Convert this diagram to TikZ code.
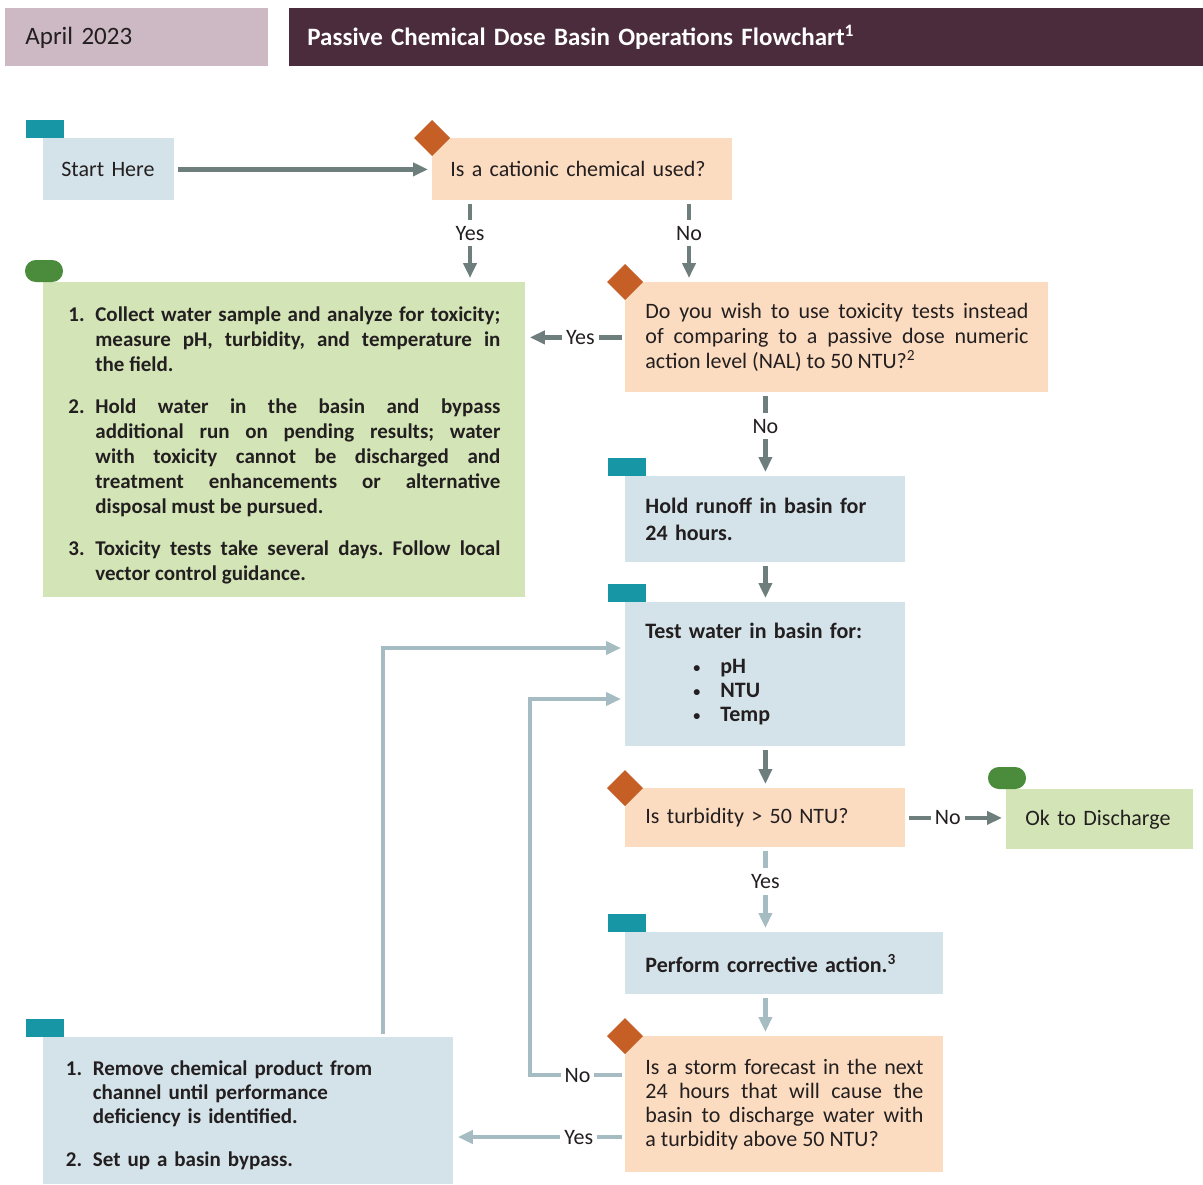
\documentclass[tikz,border=0pt]{standalone}
\usepackage{fontspec}
\setmainfont{Carlito}
\usetikzlibrary{arrows.meta,calc}
\frenchspacing

\definecolor{datebg}{HTML}{CDB9C3}
\definecolor{titlebg}{HTML}{4B2C3D}
\definecolor{stepbg}{HTML}{D4E3E9}
\definecolor{askbg}{HTML}{FCDCC0}
\definecolor{endbg}{HTML}{D3E5B6}
\definecolor{tabcol}{HTML}{1796A5}
\definecolor{diacol}{HTML}{C55F26}
\definecolor{pillcol}{HTML}{4A8C3C}
\definecolor{darkline}{HTML}{6E7E7C}
\definecolor{paleline}{HTML}{A5BCC3}
\definecolor{txt}{HTML}{231F20}

\newcommand\itm[1]{\par\hangindent=13.5pt\hangafter=1\noindent\makebox[13.5pt][l]{#1.}}
\newcommand\bul[1]{\par\noindent\hspace*{24pt}\makebox[13.5pt][l]{\raisebox{0.8pt}{\fontsize{7}{7}\selectfont\textbullet}}#1}
\newcommand\tabmark[1]{\fill[tabcol] ([shift={(-17,0)}]#1.north west) rectangle ++(38,-18);}
\newcommand\askmark[1]{\fill[diacol] ([shift={(-18,0)}]#1.north west) -- ++(18,-18) -- ++(18,18) -- ++(-18,18) -- cycle;}
\newcommand\pillmark[1]{\fill[pillcol,rounded corners=5.4pt] ([shift={(-18,0)}]#1.north west) rectangle ++(38,-22);}

\tikzset{
  box/.style={rectangle,anchor=north west,inner xsep=10pt,inner ysep=0pt,align=left,text=txt,font=\fontsize{11}{12.5}\selectfont},
  wh/.style 2 args={minimum width=#1,minimum height=#2},
  stepbox/.style={box,fill=stepbg},
  askbox/.style={box,fill=askbg},
  endbox/.style={box,fill=endbg},
  flow/.style={draw=darkline,line width=2.4pt,-{Triangle[length=7.5pt,width=6.5pt]},shorten <=1.5pt,shorten >=2pt},
  pale/.style={flow,draw=paleline},
  lbl/.style={fill=white,inner xsep=2pt,inner ysep=3pt,text=txt,font=\fontsize{11}{13}\selectfont}
}

\begin{document}
\begin{tikzpicture}[x=0.5pt,y={(0pt,-0.5pt)}]
\useasboundingbox (0,0) rectangle (1203,1184);

\node[box,fill=datebg,wh={131.5pt}{29pt},text width=111.5pt,font=\fontsize{12.5}{14}\selectfont] (date) at (5,8) {April 2023};
\node[box,fill=titlebg,wh={457pt}{29pt},inner xsep=9pt,text width=439pt,text=white,font=\bfseries\fontsize{12.5}{14}\selectfont] (title) at (289,8) {Passive Chemical Dose Basin Operations Flowchart\textsuperscript{1}};

\node[stepbox,wh={65.5pt}{31pt},inner xsep=9pt,text width=47.5pt] (start) at (43,138) {Start Here};
\node[askbox,wh={150pt}{31pt},inner xsep=9pt,text width=132pt] (q1) at (432,138) {Is a cationic chemical used?};
\node[endbox,wh={241pt}{157.5pt},inner xsep=12.5pt,text width=216pt,align=justify,font=\bfseries\fontsize{10.5}{12.5}\selectfont] (act1) at (43,282) {%
  \itm{1}Collect water sample and analyze for toxicity;\linebreak measure pH, turbidity, and temperature in\linebreak the field.\par\vspace{8.5pt}
  \itm{2}Hold water in the basin and bypass\linebreak additional run on pending results; water\linebreak with toxicity cannot be discharged and\linebreak treatment enhancements or alternative\linebreak disposal must be pursued.\par\vspace{8.5pt}
  \itm{3}Toxicity tests take several days. Follow local\linebreak vector control guidance.\par};
\node[askbox,wh={211.5pt}{55pt},text width=191.5pt,align=justify] (q2) at (625,282) {Do you wish to use toxicity tests instead\linebreak of comparing to a passive dose numeric\linebreak action level (NAL) to 50 NTU?\textsuperscript{2}};
\node[stepbox,wh={140pt}{43pt},text width=120pt,font=\bfseries\fontsize{11}{13.5}\selectfont] (hold) at (625,476) {Hold runoff in basin for\\24 hours.};
\node[stepbox,wh={140pt}{72pt},text width=120pt,font=\bfseries\fontsize{11}{12}\selectfont] (test) at (625,602) {Test water in basin for:\par\vspace{5.5pt}\bul{pH}\bul{NTU}\bul{Temp}\par};
\node[askbox,wh={140pt}{29.5pt},text width=120pt] (q3) at (625,788) {Is turbidity > 50 NTU?};
\node[endbox,wh={93.5pt}{30pt},inner xsep=9.5pt,text width=74.5pt] (ok) at (1006,789) {Ok to Discharge};
\node[stepbox,wh={159pt}{31pt},text width=139pt,font=\bfseries\fontsize{11}{13}\selectfont] (fix) at (625,932) {Perform corrective action.\textsuperscript{3}};
\node[askbox,wh={159pt}{68pt},text width=139pt,align=justify,font=\fontsize{11}{12}\selectfont] (q4) at (625,1036) {Is a storm forecast in the next\linebreak 24 hours that will cause the\linebreak basin to discharge water with\linebreak a turbidity above 50 NTU?};
\node[stepbox,wh={205pt}{73.5pt},inner xsep=11pt,text width=182.5pt,font=\bfseries\fontsize{10.5}{12}\selectfont] (remove) at (43,1037) {%
  \itm{1}Remove chemical product from\linebreak channel until performance\linebreak deficiency is identified.\par\vspace{9.5pt}
  \itm{2}Set up a basin bypass.\par};

\tabmark{start}
\tabmark{hold}
\tabmark{test}
\tabmark{fix}
\tabmark{remove}
\askmark{q1}
\askmark{q2}
\askmark{q3}
\askmark{q4}
\pillmark{act1}
\pillmark{ok}

\coordinate (yes1) at ($(q1.south west)+(38,0)$);
\coordinate (no1) at ($(q1.south west)+(257,0)$);
\coordinate (tin1) at ($(test.north west)+(0,46)$);
\coordinate (tin2) at ($(test.north west)+(0,97)$);
\coordinate (q4no) at ($(q4.north west)+(0,39)$);
\coordinate (q4yes) at ($(q4.north west)+(0,101)$);
\coordinate (up) at ($(remove.north west)+(340,0)$);

\draw[flow] (start) -- (q1);
\draw[flow] (yes1) -- node[lbl,pos=0.4]{Yes} (yes1 |- act1.north);
\draw[flow] (no1) -- node[lbl,pos=0.4]{No} (no1 |- q2.north);
\draw[flow] (q2.west) -- node[lbl,pos=0.45]{Yes} (q2.west -| act1.east);
\draw[flow] (q2.south -| hold.north) -- node[lbl,pos=0.4]{No} (hold.north);
\draw[flow] (hold) -- (test);
\draw[flow] (test) -- (q3);
\draw[flow] (q3.east) -- node[lbl,pos=0.42]{No} (q3.east -| ok.west);
\draw[pale] (q3.south) -- node[lbl,pos=0.4]{Yes} (q3.south |- fix.north);
\draw[pale] (q3.south |- fix.south) -- (q3.south |- q4.north);
\draw[pale] (q4no) -- node[lbl]{No} ($(q4no)+(-95,0)$) |- (tin2);
\draw[pale] (q4yes) -- node[lbl,pos=0.27]{Yes} (q4yes -| remove.east);
\draw[pale] (up) |- (tin1);
\end{tikzpicture}
\end{document}
